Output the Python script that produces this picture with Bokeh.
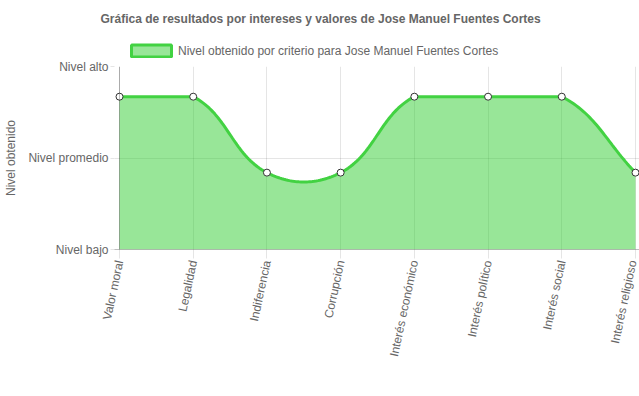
import numpy as np
from bokeh.plotting import figure
from bokeh.layouts import column
from bokeh.models import FixedTicker, Legend, LegendItem, Span, Title, Range1d
from bokeh.embed import file_html
from bokeh.resources import INLINE

# ---- data ----
categories = ["Valor moral", "Legalidad", "Indiferencia", "Corrupción",
              "Interés económico", "Interés político", "Interés social", "Interés religioso"]
values = [1.67, 1.67, 0.84, 0.84, 1.67, 1.67, 1.67, 0.84]
level_ticks = [0, 1, 2]
level_labels = ["Nivel bajo", "Nivel promedio", "Nivel alto"]
title_text = "Gráfica de resultados por intereses y valores de Jose Manuel Fuentes Cortes"
series_name = "Nivel obtenido por criterio para Jose Manuel Fuentes Cortes"
y_title = "Nivel obtenido"

FONT = "Liberation Sans"
TXT = "#666666"
W = 639
TOP_H = 58                     # header strip (title + legend)
H = 338                        # main chart
PAD_L, PAD_R = 5, 4            # extra frame room so edge markers are not clipped
ML, MR, MT, MB = 119 - PAD_L, 4 - PAD_R, 8, 147
FW, FH = W - ML - MR, H - MT - MB
AW = FW - PAD_L - PAD_R        # width of the category area (pixels)

xs = np.arange(len(categories), dtype=float)
ys = np.array(values, dtype=float)
x_end = len(categories) - 1
y_end = level_ticks[-1]

# ---- Chart.js-like tension spline (tension 0.4), computed in pixel space ----
sx, sy = AW / x_end, FH / y_end
px, py = xs * sx, ys * sy
n = len(px)
cpx_prev, cpy_prev = px.copy(), py.copy()
cpx_next, cpy_next = px.copy(), py.copy()
t = 0.4
for i in range(n):
    a = max(i - 1, 0)
    b = min(i + 1, n - 1)
    d01 = np.hypot(px[i] - px[a], py[i] - py[a])
    d12 = np.hypot(px[b] - px[i], py[b] - py[i])
    s = d01 + d12
    s01 = d01 / s if s else 0
    s12 = d12 / s if s else 0
    fa, fb = t * s01, t * s12
    cpx_prev[i] = px[i] - fa * (px[b] - px[a])
    cpy_prev[i] = py[i] - fa * (py[b] - py[a])
    cpx_next[i] = px[i] + fb * (px[b] - px[a])
    cpy_next[i] = py[i] + fb * (py[b] - py[a])
top_cap = py.max()
cpy_prev = np.clip(cpy_prev, 0, top_cap)
cpy_next = np.clip(cpy_next, 0, top_cap)

cx, cy = [], []
tt = np.linspace(0, 1, 40)
for i in range(n - 1):
    P0 = np.array([px[i], py[i]])
    P1 = np.array([cpx_next[i], cpy_next[i]])
    P2 = np.array([cpx_prev[i + 1], cpy_prev[i + 1]])
    P3 = np.array([px[i + 1], py[i + 1]])
    seg = ((1 - tt) ** 3)[:, None] * P0 + (3 * (1 - tt) ** 2 * tt)[:, None] * P1 \
        + (3 * (1 - tt) * tt ** 2)[:, None] * P2 + (tt ** 3)[:, None] * P3
    if i > 0:
        seg = seg[1:]
    cx.extend(seg[:, 0] / sx)
    cy.extend(seg[:, 1] / sy)
cx, cy = np.array(cx), np.array(cy)

fill_c = "#32cd32"
line_c = "#42d242"
grid_c = "rgba(0,0,0,0.1)"
zero_c = "rgba(0,0,0,0.25)"

# ---------------- header strip: title + legend ----------------
# its frame is aligned with the main chart's frame by the column layout
hdr = figure(width=W, height=TOP_H, output_backend="svg", toolbar_location=None,
             x_range=Range1d(ML, W - MR), y_range=Range1d(TOP_H, 0),
             min_border_left=ML, min_border_right=MR, min_border_top=0, min_border_bottom=0)
hdr.axis.visible = False
hdr.grid.visible = False
hdr.outline_line_color = None
hdr.background_fill_color = "white"
hdr.border_fill_color = "white"
hdr.title = Title(text=title_text, align="left", offset=100 - ML, standoff=20,
                  vertical_align="middle", text_font=FONT, text_font_size="12px",
                  text_font_style="bold", text_color=TXT)
# legend sample box (its one data row lies outside the visible strip)
dummy = hdr.quad(left=[-100], right=[-90], top=[-100], bottom=[-90], fill_color=fill_c,
                 fill_alpha=0.5, line_color=line_c, line_width=3)
legend = Legend(items=[LegendItem(label=series_name, renderers=[dummy])],
                location=(126 - ML, 0), orientation="horizontal",
                glyph_width=50, glyph_height=15, label_height=15, label_standoff=2,
                padding=0, margin=0, border_line_color=None, background_fill_alpha=0,
                label_text_font=FONT, label_text_font_size="12px", label_text_color=TXT)
hdr.add_layout(legend, "center")

# ---------------- main chart ----------------
ex_l, ex_r = PAD_L / sx, PAD_R / sx
p = figure(width=W, height=H, output_backend="svg", toolbar_location=None,
           x_range=(-ex_l, x_end + ex_r), y_range=(0, y_end),
           min_border_left=ML, min_border_right=MR, min_border_top=MT, min_border_bottom=MB)
p.outline_line_color = None
p.background_fill_color = "white"
p.border_fill_color = "white"

p.xgrid.ticker = FixedTicker(ticks=list(range(len(categories))))
p.ygrid.ticker = FixedTicker(ticks=level_ticks)
p.xgrid.grid_line_color = grid_c
p.ygrid.grid_line_color = grid_c

xa = p.xaxis[0]
xa.ticker = FixedTicker(ticks=list(range(len(categories))))
xa.major_label_overrides = {i: c for i, c in enumerate(categories)}
xa.major_label_orientation = 1.36
xa.axis_line_color = zero_c
xa.major_tick_out = 9
ya = p.yaxis[0]
ya.ticker = FixedTicker(ticks=level_ticks)
ya.major_label_overrides = {k: l for k, l in zip(level_ticks, level_labels)}
ya.axis_label = y_title
ya.axis_label_standoff = 7
ya.axis_line_color = None
ya.major_tick_out = 9 - PAD_L
for ax in (xa, ya):
    ax.major_tick_line_color = grid_c
    ax.major_tick_in = 0
    ax.minor_tick_line_color = None
    ax.major_label_text_font = FONT
    ax.major_label_text_font_size = "12px"
    ax.major_label_text_color = TXT
    ax.major_label_standoff = 2
    ax.axis_label_text_font = FONT
    ax.axis_label_text_font_size = "12px"
    ax.axis_label_text_font_style = "normal"
    ax.axis_label_text_color = TXT

p.add_layout(Span(location=0, dimension="height", line_color=zero_c, line_width=1))

p.varea(x=cx, y1=np.zeros_like(cy), y2=cy, fill_color=fill_c, fill_alpha=0.5)
p.line(x=cx, y=cy, line_color=line_c, line_width=3)
p.scatter(x=xs, y=ys, size=7, fill_color="white", line_color="#333333", line_width=1)

layout = column(hdr, p, spacing=0)
open("out.html", "w").write(file_html(layout, INLINE))
